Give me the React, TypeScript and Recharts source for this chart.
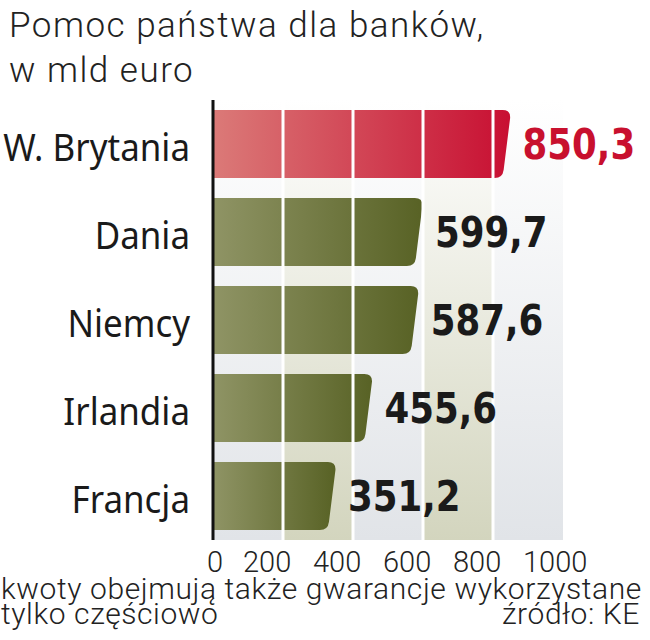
import { BarChart, Bar, XAxis, YAxis, ReferenceArea, ReferenceLine, LabelList } from 'recharts';

const COUNTRIES = ['W. Brytania', 'Dania', 'Niemcy', 'Irlandia', 'Francja'];
const AID = [850.3, 599.7, 587.6, 455.6, 351.2];
const TICKS = [0, 200, 400, 600, 800, 1000];

const data = COUNTRIES.map((name, i) => ({ name, value: AID[i] }));

const CONDENSED = '"DejaVu Sans Condensed", "Liberation Sans Narrow", Roboto, sans-serif';
const LIGHT = 'Roboto, "Noto Sans", sans-serif';

const fmt = (v: number) => v.toFixed(1).replace('.', ',');

function SlantBar(props: any) {
  const { x, y, width, height, index } = props;
  if (!width || width <= 0) return null;
  const r = 8;
  const s = 8;
  const right = x + width;
  const fill = index === 0 ? 'url(#gradRed)' : 'url(#gradOlive)';
  const d = `M${x},${y} L${right - r},${y} Q${right},${y} ${right - 0.5},${y + r} L${right - s + 1},${y + height - r} Q${right - s},${y + height} ${right - s - r},${y + height} L${x},${y + height} Z`;
  return <path d={d} fill={fill} />;
}

function ValueLabel(props: any) {
  const { x, y, width, height, value, index } = props;
  const tx = x + width + 12;
  const ty = y + height / 2;
  return (
    <text
      transform={`translate(${tx},${ty}) scale(0.92,1)`}
      dy="0.36em"
      fill={index === 0 ? '#c8102e' : '#1a1a1a'}
      fontFamily={CONDENSED}
      fontWeight="bold"
      fontSize={43}
    >
      {fmt(value)}
    </text>
  );
}

function CountryTick(props: any) {
  const { x, y, payload } = props;
  return (
    <text
      transform={`translate(${x},${y}) scale(0.92,1)`}
      dy={17}
      textAnchor="end"
      fill="#1a1a1a"
      fontFamily='"Noto Sans", sans-serif'
      fontSize={38}
    >
      {payload.value}
    </text>
  );
}

// tick labels sit left of their gridline, like a spaced-out row of numbers
function ValueTick(props: any) {
  const { x, y, payload, index } = props;
  const first = index === 0;
  return (
    <text
      x={first ? x + 2 : x - 40}
      y={y}
      dy={20}
      textAnchor={first ? 'middle' : 'start'}
      fill="#222"
      fontFamily={LIGHT}
      fontWeight={300}
      fontSize={29}
    >
      {payload.value}
    </text>
  );
}

export default function App() {
  return (
    <div style={{ position: 'absolute', left: 0, top: 0, width: 650, height: 640, background: '#fff', fontFamily: LIGHT }}>
      <div style={{ position: 'absolute', left: 9, top: 3, fontSize: 35, fontWeight: 300, lineHeight: '45px', color: '#222', letterSpacing: 1.5 }}>
        Pomoc państwa dla banków,
        <br />
        w mld euro
      </div>
      <div style={{ position: 'absolute', left: 0, top: 0 }}>
        <BarChart width={650} height={640} data={data} layout="vertical" margin={{ top: 100, right: 87, bottom: 70, left: 0 }}>
          <defs>
            <linearGradient id="gradRed" x1="0" y1="0" x2="1" y2="0">
              <stop offset="0%" stopColor="#db7a78" />
              <stop offset="100%" stopColor="#c80f32" />
            </linearGradient>
            <linearGradient id="gradOlive" x1="0" y1="0" x2="1" y2="0">
              <stop offset="0%" stopColor="#8f9465" />
              <stop offset="100%" stopColor="#586225" />
            </linearGradient>
            <linearGradient id="bandGrey" x1="0" y1="0" x2="0" y2="1">
              <stop offset="0%" stopColor="#ffffff" />
              <stop offset="100%" stopColor="#e1e4e8" />
            </linearGradient>
            <linearGradient id="bandOlive" x1="0" y1="0" x2="0" y2="1">
              <stop offset="0%" stopColor="#ffffff" />
              <stop offset="100%" stopColor="#d3d5be" />
            </linearGradient>
          </defs>
          <XAxis
            type="number"
            domain={[0, 1000]}
            ticks={TICKS}
            axisLine={false}
            tickLine={false}
            height={30}
            tickMargin={6}
            tick={<ValueTick />}
            interval={0}
          />
          <YAxis
            type="category"
            dataKey="name"
            width={213}
            tickLine={false}
            axisLine={{ stroke: '#111', strokeWidth: 3 }}
            tickMargin={17}
            tick={<CountryTick />}
          />
          {TICKS.slice(0, -1).map((t, i) => (
            <ReferenceArea
              key={t}
              x1={t}
              x2={TICKS[i + 1]}
              fill={i % 2 === 0 ? 'url(#bandGrey)' : 'url(#bandOlive)'}
              fillOpacity={1}
              stroke="none"
            />
          ))}
          <Bar dataKey="value" barSize={68} shape={<SlantBar />} isAnimationActive={false}>
            <LabelList dataKey="value" content={<ValueLabel />} />
          </Bar>
          {TICKS.slice(1, -1).map((t) => (
            <ReferenceLine key={t} x={t} stroke="#fff" strokeWidth={3} />
          ))}
        </BarChart>
      </div>
      <div style={{ position: 'absolute', left: 1, top: 576, fontSize: 30, fontWeight: 300, color: '#222', lineHeight: '25px', letterSpacing: 0.6 }}>
        kwoty obejmują także gwarancje wykorzystane
        <br />
        tylko częściowo
      </div>
      <div style={{ position: 'absolute', right: 10, top: 601, fontSize: 30, fontWeight: 300, color: '#222', lineHeight: '25px', letterSpacing: 0.6 }}>
        źródło: KE
      </div>
    </div>
  );
}
